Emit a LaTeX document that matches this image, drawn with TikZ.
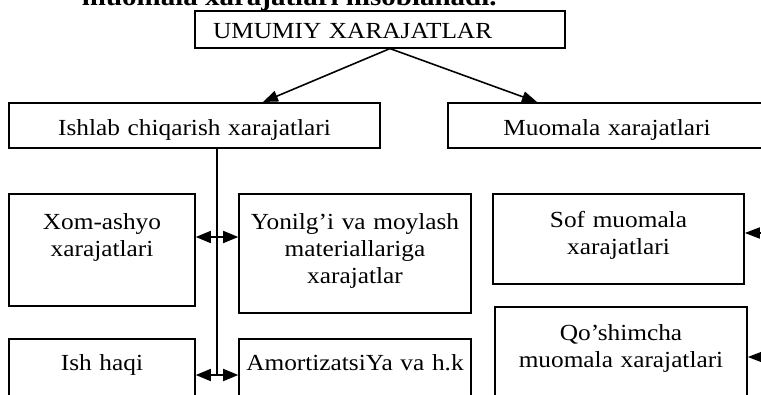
\documentclass[tikz,border=0pt]{standalone}
\usepackage{fontspec}
\setmainfont[FakeStretch=1.1]{Liberation Serif}
\usetikzlibrary{arrows.meta, positioning}
\tikzset{
  cbox/.style={rectangle, draw, line width=0.9pt, anchor=north, inner ysep=0pt, inner xsep=0.07cm, align=center, font=\fontsize{13.1pt}{15.4pt}\selectfont},
  flow/.style={line width=0.9pt, -{Triangle[length=0.3cm, width=0.22cm]}},
  both/.style={line width=0.9pt, {Triangle[length=0.3cm, width=0.24cm]}-{Triangle[length=0.3cm, width=0.24cm]}},
}
\begin{document}
\begin{tikzpicture}[x=0.02cm, y=-0.02cm]
  \useasboundingbox (0,0) rectangle (761,395);
  % ── cut-off line of the page above ───────────────────────────────
  \node[anchor=base east, inner sep=0pt, font=\fontsize{15pt}{17pt}\selectfont\bfseries] (pageline) at (497,6) {muomala xarajatlari hisoblanadi.};
  % ── top box ──────────────────────────────────────────────────────
  \node[cbox, align=left, text width=6.68cm, inner xsep=0.36cm, text height=0.56cm, text depth=0.18cm] (total) at (380,10) {UMUMIY XARAJATLAR};
  % ── second row ───────────────────────────────────────────────────
  \node[cbox, text width=7.28cm, text height=0.66cm, text depth=0.24cm] (prod) at (194.5,102) {Ishlab chiqarish xarajatlari};
  \node[cbox, text width=6.22cm, text height=0.66cm, text depth=0.24cm] (circ) at (607,102) {Muomala xarajatlari};
  % ── third row ────────────────────────────────────────────────────
  \node[cbox, text width=3.58cm, text height=0.72cm, text depth=1.52cm] (raw) at (102,193) {Xom-ashyo\\xarajatlari};
  \node[cbox, text width=4.50cm, text height=0.72cm, text depth=1.66cm] (fuel) at (355,193) {Yonilg’i va moylash\\materiallariga\\xarajatlar};
  \node[cbox, text width=4.88cm, text height=0.68cm, text depth=1.12cm] (pure) at (618.5,193) {Sof muomala\\xarajatlari};
  % ── fourth row ───────────────────────────────────────────────────
  \node[cbox, text width=3.58cm, text height=0.64cm, text depth=0.8cm] (wage) at (102,338) {Ish haqi};
  \node[cbox, text width=4.50cm, text height=0.64cm, text depth=0.8cm] (amort) at (355,338) {AmortizatsiYa va h.k};
  \node[cbox, text width=4.90cm, text height=0.68cm, text depth=1.4cm] (extra) at (621,306) {Qo’shimcha\\muomala xarajatlari};
  % ── top-down arrows ──────────────────────────────────────────────
  \draw[flow] ([xshift=0.2cm]total.south) -- ([xshift=1.37cm]prod.north);
  \draw[flow] ([xshift=0.2cm]total.south) -- ([xshift=-1.4cm]circ.north);
  % ── trunk with double arrows ─────────────────────────────────────
  \coordinate (joinA) at (217,237);
  \coordinate (joinB) at (217,375);
  \draw[line width=0.9pt] (prod.south -| joinB) -- (joinB);
  \draw[both] (raw.east |- joinA) -- (fuel.west |- joinA);
  \draw[both] (wage.east |- joinB) -- (amort.west |- joinB);
  % ── arrows coming in from the right edge ─────────────────────────
  \coordinate (feedA) at (775,233);
  \coordinate (feedB) at (775,357);
  \draw[flow] (feedA) -- (pure.east |- feedA);
  \draw[flow] (feedB) -- (extra.east |- feedB);
\end{tikzpicture}
\end{document}
